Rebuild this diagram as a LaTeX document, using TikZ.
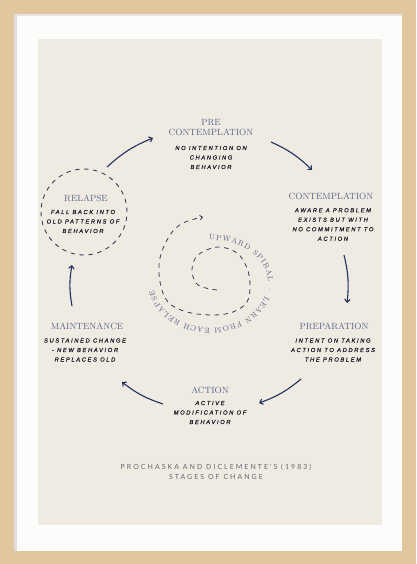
\documentclass[tikz,border=0pt]{standalone}
\usepackage{fontspec}
\usetikzlibrary{arrows.meta,decorations.text}

\definecolor{wood}{RGB}{224,199,158}
\definecolor{mat}{RGB}{252,252,251}
\definecolor{paper}{RGB}{239,235,227}
\definecolor{headblue}{RGB}{88,100,135}
\definecolor{handgray}{RGB}{30,30,40}
\definecolor{navy}{RGB}{33,47,92}
\definecolor{dashnavy}{RGB}{50,58,90}
\definecolor{capgray}{RGB}{100,100,112}

\newfontfamily\handfamily[LetterSpace=28,FakeBold=0.6]{Liberation Sans}
\newfontfamily\capfamily[LetterSpace=29]{Lato}
\newcommand\headfont{\addfontfeature{LetterSpace=15}\fontsize{9}{10}\selectfont}
\newcommand\handfont{\handfamily\itshape\fontsize{5.8}{9.5}\selectfont}
\newcommand\capfont{\capfamily\fontsize{7}{10.5}\selectfont}
\newcommand\spirfont{\fontsize{7.5}{8}\selectfont}

\begin{document}
\begin{tikzpicture}
[x=1pt,y=1pt
,stg/.style={font=\headfont,text=headblue,align=center,inner sep=0pt}
,dsc/.style={font=\handfont,text=handgray,align=center,inner sep=0pt}
,captxt/.style={font=\capfont,text=capgray,align=center,inner sep=0pt}
,ar/.style={draw=navy,line width=1.1pt,bend left=10,arrows={-Straight Barb[length=3pt,width=5.5pt]}}
,dsh/.style={draw=dashnavy,line width=0.85pt,dash pattern=on 4.5pt off 4.5pt}
]
% frame, mat and paper
\fill[wood] (0,0) rectangle (416,-564);
\fill[mat] (14,-14) rectangle (402,-551);
\fill[black!10] (14,-14) rectangle (402,-16);
\fill[black!13] (14,-14) rectangle (17,-551);
\fill[paper] (38,-39) rectangle (382,-525);
\useasboundingbox (0,0) rectangle (416,-564);

% stages
\node[stg] (pre) at (211,-128) {PRE\\CONTEMPLATION};
\node[dsc] (pred) at (211,-157.5) {NO INTENTION ON\\CHANGING\\BEHAVIOR};
\node[stg] (con) at (331,-196) {CONTEMPLATION};
\node[dsc] (cond) at (333,-224.5) {AWARE A PROBLEM\\EXISTS BUT WITH\\NO COMMITMENT TO\\ACTION};
\node[stg] (prep) at (334,-326) {PREPARATION};
\node[dsc] (prepd) at (333,-350) {INTENT ON TAKING\\ACTION TO ADDRESS\\THE PROBLEM};
\node[stg] (act) at (210,-390) {ACTION};
\node[dsc] (actd) at (210,-412.5) {ACTIVE\\MODIFICATION OF\\BEHAVIOR};
\node[stg] (mnt) at (87,-326) {MAINTENANCE};
\node[dsc] (mntd) at (85,-350) {SUSTAINED CHANGE\\- NEW BEHAVIOR\\REPLACES OLD};
\node[dsh,circle,minimum size=86pt] (relc) at (84,-212) {};
\node[stg] (rel) at (86,-198) {RELAPSE};
\node[dsc] (reld) at (83,-221.5) {FALL BACK INTO\\OLD PATTERNS OF\\BEHAVIOR};

% arrow ends
\coordinate (a1s) at (107,-167); \coordinate (a1e) at (153,-138);
\coordinate (a2s) at (271,-142); \coordinate (a2e) at (312,-170);
\coordinate (a3s) at (344,-255); \coordinate (a3e) at (347,-303);
\coordinate (a4s) at (301,-379); \coordinate (a4e) at (259,-403);
\coordinate (a5s) at (163,-404); \coordinate (a5e) at (122,-382);
\coordinate (a6s) at (72,-306); \coordinate (a6e) at (72,-265);
\draw[ar] (a1s) to (a1e);
\draw[ar] (a2s) to (a2e);
\draw[ar] (a3s) to (a3e);
\draw[ar] (a4s) to (a4e);
\draw[ar] (a5s) to (a5e);
\draw[ar] (a6s) to (a6e);

% spiral
\draw[dsh,line width=0.8pt,arrows={-Straight Barb[length=2.5pt,width=4.5pt]}] plot[smooth,tension=0.6] coordinates
{(217,-290) (198,-285) (192,-270) (198,-255) (218,-247) (237,-253) (247,-268) (250,-285) (247,-302) (233,-312)
(213,-315) (187,-312) (168,-302) (160,-282) (160,-258) (170,-235) (183,-223) (203,-217)};
\begin{scope}[shift={(210,-282)}]
\path[decorate,decoration={text along path,text align={fit to path},
text={|\spirfont\color{headblue}|UPWARD SPIRAL · LEARN FROM EACH RELAPSE}}]
(-1,42) arc[start angle=92,end angle=0,x radius=57,y radius=42]
arc[start angle=0,end angle=-90,x radius=57,y radius=46]
arc[start angle=270,end angle=190,x radius=58,y radius=46];
\end{scope}

% caption
\node[captxt] (ttl) at (216,-472) {PROCHASKA AND DICLEMENTE'S (1983)\\STAGES OF CHANGE};
\end{tikzpicture}
\end{document}
